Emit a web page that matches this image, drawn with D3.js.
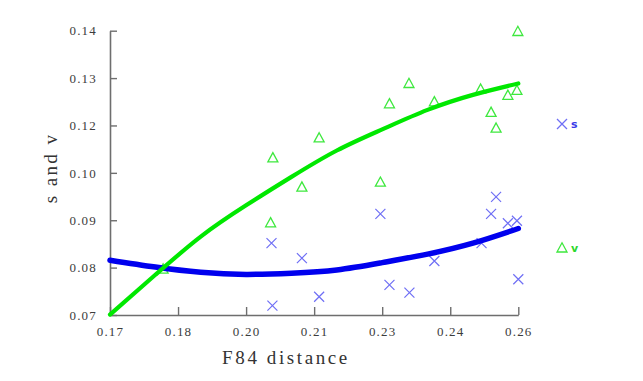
<!DOCTYPE html>
<html>
<head>
<meta charset="utf-8">
<script src="https://cdn.jsdelivr.net/npm/d3@7"></script>
<style>
  html, body { margin: 0; padding: 0; background: #fff; }
  svg { display: block; }
</style>
</head>
<body>
<div id="chart"></div>
<script>
// sample distances (shared by s and v)
const distV = [0.1817, 0.2059, 0.2054, 0.2123, 0.2161, 0.2296, 0.2316, 0.2359, 0.2415, 0.2517, 0.2540, 0.2551, 0.2577, 0.2597, 0.2599];
const vValues = [0.0813, 0.1087, 0.0927, 0.1015, 0.1136, 0.1027, 0.1220, 0.1270, 0.1225, 0.1256, 0.1199, 0.1160, 0.1241, 0.1253, 0.1398];

const distS = [0.2056, 0.2058, 0.2123, 0.2161, 0.2296, 0.2316, 0.2360, 0.2415, 0.2519, 0.2540, 0.2551, 0.2577, 0.2597, 0.2600];
const sValues = [0.0877, 0.0723, 0.0840, 0.0745, 0.0949, 0.0774, 0.0755, 0.0833, 0.0877, 0.0949, 0.0991, 0.0926, 0.0932, 0.0788];

// fitted curves
const fitDist = [0.17, 0.18, 0.19, 0.20, 0.21, 0.22, 0.23, 0.24, 0.25, 0.26];
const fitV = [0.0701, 0.0799, 0.0893, 0.0970, 0.1040, 0.1105, 0.1157, 0.1205, 0.1242, 0.1270];
const fitS = [0.0835, 0.0818, 0.0805, 0.0800, 0.0803, 0.0811, 0.0829, 0.0850, 0.0877, 0.0913];

// axis ticks (evenly spaced, labels rounded the way the original shows them)
const xTicks = [0.17, 0.185, 0.20, 0.215, 0.23, 0.245, 0.26];
const xTickLabels = ['0.17', '0.18', '0.20', '0.21', '0.23', '0.24', '0.26'];
const yTicks = [0.07, 0.08167, 0.09333, 0.105, 0.11667, 0.12833, 0.14];
const yTickLabels = ['0.07', '0.08', '0.09', '0.10', '0.12', '0.13', '0.14'];

const width = 643, height = 381;
const margin = {left: 110, right: 124.7, top: 30.7, bottom: 66};

const svg = d3.select('#chart').append('svg')
  .attr('width', width)
  .attr('height', height);

const xScale = d3.scaleLinear()
  .domain([0.17, 0.26])
  .range([margin.left, width - margin.right]);

const yScale = d3.scaleLinear()
  .domain([0.07, 0.14])
  .range([height - margin.bottom, margin.top]);

const axisColor = '#6e6e6e';
const labelFont = '"Liberation Serif", "DejaVu Serif", serif';

// x axis, ticks pointing inside
const xAxis = svg.append('g')
  .attr('transform', `translate(0,${height - margin.bottom})`)
  .call(d3.axisBottom(xScale)
    .tickValues(xTicks)
    .tickFormat((d, i) => xTickLabels[i])
    .tickSizeInner(-8)
    .tickSizeOuter(0)
    .tickPadding(16));

// y axis, ticks pointing inside
const yAxis = svg.append('g')
  .attr('transform', `translate(${margin.left},0)`)
  .call(d3.axisLeft(yScale)
    .tickValues(yTicks)
    .tickFormat((d, i) => yTickLabels[i])
    .tickSizeInner(-7)
    .tickSizeOuter(0)
    .tickPadding(13));

[xAxis, yAxis].forEach(ax => {
  ax.select('.domain')
    .attr('stroke', axisColor)
    .attr('stroke-width', 1.6);
  ax.selectAll('.tick line')
    .attr('stroke', axisColor)
    .attr('stroke-width', 1.4);
  ax.selectAll('.tick text')
    .attr('fill', '#3c3c3c')
    .style('font-family', labelFont)
    .style('font-size', '13px')
    .style('letter-spacing', '1.2px');
});

xAxis.selectAll('.tick text').attr('dy', '0.35em');

// axis titles
svg.append('text')
  .attr('x', 286)
  .attr('y', 364)
  .attr('text-anchor', 'middle')
  .attr('fill', '#333')
  .style('font-family', labelFont)
  .style('font-size', '19px')
  .style('letter-spacing', '2.6px')
  .text('F84 distance');

svg.append('text')
  .attr('transform', 'translate(57,168) rotate(-90)')
  .attr('text-anchor', 'middle')
  .attr('fill', '#333')
  .style('font-family', labelFont)
  .style('font-size', '19px')
  .style('letter-spacing', '2.4px')
  .text('s and v');

// markers
const triPath = 'M0,-5.2L5,4L-5,4Z';
const crossPath = 'M-5,-5L5,5M-5,5L5,-5';
const triColor = '#3ee83e';
const crossColor = '#6f6ff5';

svg.append('g').selectAll('.v-point')
  .data(d3.zip(distV, vValues))
  .enter().append('path')
    .attr('class', 'v-point')
    .attr('d', triPath)
    .attr('transform', ([x, y]) => `translate(${xScale(x)},${yScale(y)})`)
    .attr('fill', 'none')
    .attr('stroke', triColor)
    .attr('stroke-width', 1.3);

svg.append('g').selectAll('.s-point')
  .data(d3.zip(distS, sValues))
  .enter().append('path')
    .attr('class', 's-point')
    .attr('d', crossPath)
    .attr('transform', ([x, y]) => `translate(${xScale(x)},${yScale(y)})`)
    .attr('fill', 'none')
    .attr('stroke', crossColor)
    .attr('stroke-width', 1.2);

// fitted curves
const line = d3.line()
  .x(d => xScale(d[0]))
  .y(d => yScale(d[1]))
  .curve(d3.curveNatural);

svg.append('path')
  .datum(d3.zip(fitDist, fitS))
  .attr('d', line)
  .attr('fill', 'none')
  .attr('stroke', '#0000ee')
  .attr('stroke-width', 5.5)
  .attr('stroke-linecap', 'round');

svg.append('path')
  .datum(d3.zip(fitDist, fitV))
  .attr('d', line)
  .attr('fill', 'none')
  .attr('stroke', '#00e800')
  .attr('stroke-width', 4.2)
  .attr('stroke-linecap', 'round');

// legend
const legend = [
  {key: 's', path: crossPath, color: crossColor, textColor: '#3a3ae8', y: 124},
  {key: 'v', path: triPath, color: triColor, textColor: '#2bd82b', y: 248},
];

const lg = svg.append('g').selectAll('.legend')
  .data(legend)
  .enter().append('g')
    .attr('class', 'legend')
    .attr('transform', d => `translate(562,${d.y})`);

lg.append('path')
  .attr('d', d => d.path)
  .attr('fill', 'none')
  .attr('stroke', d => d.color)
  .attr('stroke-width', 1.3);

lg.append('text')
  .attr('x', 9)
  .attr('y', 4)
  .attr('fill', d => d.textColor)
  .style('font-family', '"DejaVu Sans", sans-serif')
  .style('font-size', '11px')
  .style('font-weight', 'bold')
  .text(d => d.key);
</script>
</body>
</html>
